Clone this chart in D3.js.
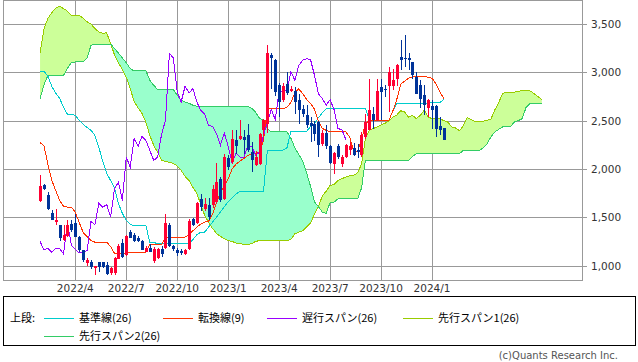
<!DOCTYPE html>
<html>
<head>
<meta charset="utf-8">
<script src="https://cdn.jsdelivr.net/npm/d3@7"></script>
<style>
  body { margin: 0; background: #fff; }
  text { font-family: "DejaVu Sans", Verdana, sans-serif; }
  .jp { font-family: "Noto Sans CJK JP", sans-serif; }
  path, line, rect { shape-rendering: crispEdges; }
</style>
</head>
<body>
<svg id="chart" width="638" height="362"></svg>
<script>

// weekly candles, 2022/1/31 .. 2024/1/22
var openP = [1667,1830,1733,1542,1449,1415,1267,1304,1432,1439,1294,1156,1028,1041,976,1034,1034,1007,924,924,
  1069,1231,1104,1346,1311,1290,1259,1145,1180,1050,1076,1173,1180,1422,1200,1156,1150,1118,1173,1477,
  1442,1691,1581,1629,1622,1657,1899,1691,2116,2071,2296,2314,2331,2348,2175,2037,2048,2400,2469,3180,
  3126,2867,2711,2885,2810,2810,2711,2625,2556,2476,2469,2486,2255,2372,2234,2048,2234,2054,2123,2200,
  2220,2195,2141,2331,2400,2566,2511,2850,2833,2857,2857,2936,3160,3154,3154,3109,2953,2867,2763,2635,
  2649,2649,2441,2427];
var highP = [1933,1847,1760,1570,1581,1420,1422,1467,1467,1536,1301,1156,1076,1052,1000,1041,1041,1041,982,1086,
  1225,1277,1311,1363,1332,1301,1262,1200,1225,1190,1180,1200,1536,1440,1210,1180,1175,1170,1480,1490,
  1660,1740,1700,1700,1830,2058,1920,2150,2140,2400,2400,2504,2400,2462,2280,2190,2370,2520,3282,3200,
  3140,2890,2890,3000,2860,2850,2780,2660,2660,2538,2500,2500,2400,2460,2250,2175,2262,2141,2255,2279,
  2270,2262,2383,2573,2936,2642,2936,2936,2867,3057,3040,3092,3333,3386,3196,3109,3005,2919,2867,2729,
  2711,2660,2538,2427];
var lowP = [1660,1778,1570,1467,1415,1249,1259,1294,1346,1294,1138,1034,1000,966,904,938,972,904,904,904,
  1069,1076,1100,1280,1239,1239,1156,1140,1135,1030,1070,1090,1170,1190,1150,1100,1110,1110,1160,1410,
  1430,1560,1560,1470,1600,1640,1660,1680,1990,2050,2150,2296,2150,2180,1970,2030,2040,2296,2370,2830,
  2760,2540,2690,2770,2800,2570,2470,2540,2420,2280,2290,2124,2240,2210,2050,1951,2106,2020,2110,2141,
  2130,2110,2123,2310,2400,2418,2500,2504,2746,2590,2815,2857,3030,3057,3030,2936,2773,2635,2556,2538,
  2418,2331,2348,2300];
var closeP = [1819,1795,1581,1474,1467,1283,1318,1422,1370,1294,1156,1052,1062,982,993,982,982,914,972,1076,
  1197,1086,1301,1287,1259,1249,1163,1180,1138,1175,1173,1121,1442,1207,1166,1131,1130,1156,1456,1422,
  1646,1605,1633,1501,1795,1864,1674,2123,2019,2314,2234,2338,2296,2192,2089,2123,2359,2504,3196,3150,
  2797,2694,2856,2787,2833,2694,2608,2566,2452,2441,2366,2244,2372,2234,2061,2165,2123,2123,2244,2234,
  2141,2175,2348,2486,2615,2511,2808,2798,2822,3005,2919,3074,3126,3143,3133,2971,2780,2729,2660,2718,
  2615,2418,2407,2304];

// 基準線(26), 転換線(9): one value per candle
var kijun = [3012,3012,2960,2856,2784,2732,2638,2566,2566,2556,2504,2462,2431,2400,2348,2224,2079,1954,1881,1800,
  1643,1539,1467,1425,1415,1415,1415,1415,1240,1240,1225,1225,1225,1225,1225,1225,1225,1225,1230,1270,
  1318,1346,1346,1400,1450,1500,1553,1610,1660,1700,1740,1770,1770,1770,1770,1770,1770,1770,2195,2195,
  2195,2195,2195,2220,2390,2390,2390,2390,2390,2440,2470,2530,2580,2625,2625,2625,2625,2625,2625,2625,
  2625,2625,2625,2625,2504,2504,2504,2504,2504,2504,2600,2677,2677,2677,2677,2677,2677,2677,2677,2677,
  2690,2690,2690,2718];
var tenkan = [2272,2240,2050,1880,1778,1674,1612,1605,1605,1550,1446,1342,1300,1259,1242,1242,1242,1242,1197,1124,
  1121,1121,1131,1138,1138,1138,1138,1138,1215,1215,1215,1215,1294,1294,1294,1294,1294,1294,1320,1360,
  1397,1430,1450,1460,1530,1650,1750,1820,1900,2000,2050,2080,2110,2140,2158,2158,2175,2300,2625,2625,
  2625,2625,2625,2640,2690,2790,2830,2780,2720,2680,2620,2500,2420,2400,2383,2383,2383,2383,2383,2330,
  2180,2180,2300,2469,2504,2504,2504,2504,2504,2504,2600,2720,2880,2910,2940,2950,2960,2960,2960,2950,
  2940,2880,2800,2729];

// 先行スパン1, 先行スパン2: plotted 25 weeks ahead
var spanA = [3198,3450,3560,3620,3665,3686,3661,3634,3593,3593,3593,3560,3524,3500,3454,3420,3406,3410,3299,3180,
  3100,3030,2950,2833,2700,2633,2576,2483,2348,2244,2172,2089,2079,2068,2058,2030,1985,1923,1881,1809,
  1747,1633,1519,1446,1384,1332,1301,1280,1259,1249,1233,1228,1218,1218,1228,1249,1259,1259,1259,1259,
  1259,1259,1259,1259,1270,1330,1345,1360,1400,1440,1530,1610,1720,1770,1830,1840,1881,1900,1915,1930,
  1933,1960,2050,2317,2400,2418,2436,2457,2473,2497,2535,2559,2603,2590,2538,2556,2521,2556,2608,2538,
  2521,2521,2521,2500,2486,2435,2425,2395,2450,2531,2510,2493,2493,2493,2505,2515,2610,2690,2780,2796,
  2796,2796,2800,2818,2812,2808,2782,2750,2720];
var spanB = [2729,2870,2970,2970,2970,2970,2970,3043,3105,3108,3108,3108,3147,3281,3292,3292,3292,3292,3292,3250,
  3200,3150,3100,3040,3015,3015,3015,3015,2919,2867,2822,2822,2822,2822,2822,2763,2711,2694,2680,2660,
  2649,2649,2649,2649,2649,2649,2649,2649,2649,2649,2649,2649,2649,2649,2628,2587,2525,2504,2421,2383,
  2383,2383,2383,2383,2317,2220,2150,2080,1960,1820,1660,1610,1553,1540,1653,1657,1691,1691,1691,1691,
  1691,1691,1800,2089,2089,2089,2089,2089,2089,2089,2089,2089,2089,2089,2089,2130,2158,2158,2158,2158,
  2158,2158,2158,2158,2158,2158,2158,2158,2193,2193,2193,2193,2193,2215,2260,2331,2383,2410,2435,2440,
  2440,2486,2500,2521,2640,2677,2677,2677,2677];

var chikouShift = 25;
var tickIndex = [9, 22, 35, 48, 61, 74, 87, 100];
var tickLabels = ["2022/4", "2022/7", "2022/10", "2023/1", "2023/4", "2023/7", "2023/10", "2024/1"];
var yTicks = [1000, 1500, 2000, 2500, 3000, 3500];

var legendItems = [
  {label: "基準線(26)", color: "#00cccc"},
  {label: "転換線(9)", color: "#ff3300"},
  {label: "遅行スパン(26)", color: "#9900ff"},
  {label: "先行スパン1(26)", color: "#99cc00"},
  {label: "先行スパン2(26)", color: "#33cc66"}
];

var plotLeft = 3, plotRight = 582, plotTop = 0, plotBottom = 280;

var svg = d3.select("#chart");

var x = d3.scaleLinear()
  .domain([-9.45, 138.25])
  .range([plotLeft, plotRight]);

var y = d3.scaleLinear()
  .domain([850, 3750])
  .range([plotBottom, plotTop]);

function px(v) { return Math.round(v) + 0.5; }

// grid
var grid = svg.append("g");
grid.selectAll(".hgrid")
  .data(yTicks)
  .enter()
  .append("line")
  .attr("x1", plotLeft)
  .attr("x2", plotRight + 5)
  .attr("y1", d => px(y(d)))
  .attr("y2", d => px(y(d)))
  .attr("stroke", "#999");

grid.selectAll(".vgrid")
  .data(tickIndex)
  .enter()
  .append("line")
  .attr("x1", d => px(x(d)))
  .attr("x2", d => px(x(d)))
  .attr("y1", plotTop)
  .attr("y2", plotBottom)
  .attr("stroke", "#999");

grid.append("rect")
  .attr("x", plotLeft + 0.5)
  .attr("y", plotTop + 0.5)
  .attr("width", plotRight - plotLeft)
  .attr("height", plotBottom - plotTop)
  .attr("fill", "none")
  .attr("stroke", "#999");

svg.append("g").selectAll("text")
  .data(yTicks)
  .enter()
  .append("text")
  .attr("x", 591)
  .attr("y", d => y(d) + 4)
  .attr("font-size", "10.5px")
  .attr("fill", "#333")
  .text(d => d3.format(",")(d));

svg.append("g").selectAll("text")
  .data(tickIndex)
  .enter()
  .append("text")
  .attr("x", d => x(d))
  .attr("y", 292)
  .attr("text-anchor", "middle")
  .attr("font-size", "10.5px")
  .attr("fill", "#333")
  .text((d, i) => tickLabels[i]);

// cloud between span 1 and span 2
var defs = svg.append("defs");
defs.append("clipPath").attr("id", "belowA")
  .append("path")
  .attr("d", d3.area().x((d, i) => x(i)).y0(plotBottom).y1(d => y(d))(spanA));
defs.append("clipPath").attr("id", "aboveA")
  .append("path")
  .attr("d", d3.area().x((d, i) => x(i)).y0(plotTop).y1(d => y(d))(spanA));

var cloud = svg.append("g");
cloud.append("path")
  .attr("clip-path", "url(#belowA)")
  .attr("d", d3.area().x((d, i) => x(i)).y0(d => y(d)).y1(plotTop)(spanB))
  .attr("fill", "#ccff99");
cloud.append("path")
  .attr("clip-path", "url(#aboveA)")
  .attr("d", d3.area().x((d, i) => x(i)).y0(d => y(d)).y1(plotBottom)(spanB))
  .attr("fill", "#99ffcc");

var line = d3.line()
  .x((d, i) => x(i))
  .y(d => y(d));

function drawLine(values, color) {
  svg.append("path")
    .attr("d", line(values))
    .attr("fill", "none")
    .attr("stroke", color)
    .attr("stroke-width", 1);
}

drawLine(spanA, "#99cc00");
drawLine(spanB, "#33cc66");
drawLine(kijun, "#00cccc");
drawLine(tenkan, "#ff3300");
drawLine(closeP.slice(chikouShift), "#9900ff");

// candles
var candles = svg.append("g").selectAll("g")
  .data(closeP)
  .enter()
  .append("g")
  .attr("fill", (d, i) => d >= openP[i] ? "#ff0033" : "#003399")
  .attr("stroke", (d, i) => d >= openP[i] ? "#ff0033" : "#003399");

candles.append("line")
  .attr("x1", (d, i) => px(x(i)))
  .attr("x2", (d, i) => px(x(i)))
  .attr("y1", (d, i) => y(highP[i]))
  .attr("y2", (d, i) => y(lowP[i]));

candles.append("rect")
  .attr("x", (d, i) => Math.round(x(i)) - 1)
  .attr("y", (d, i) => y(Math.max(d, openP[i])))
  .attr("width", 3)
  .attr("height", (d, i) => Math.max(1, Math.abs(y(d) - y(openP[i]))))
  .attr("stroke", "none");

// legend
var legend = svg.append("g");
legend.append("rect")
  .attr("x", 3.5)
  .attr("y", 296.5)
  .attr("width", 632)
  .attr("height", 49)
  .attr("fill", "none")
  .attr("stroke", "#000");

legend.append("text")
  .attr("class", "jp")
  .attr("x", 10)
  .attr("y", 322)
  .attr("font-size", "11px")
  .text("上段:");

var legendPos = [[44, 318], [163, 318], [267, 318], [403, 318], [44, 336]];
legendItems.forEach(function(item, i) {
  var p = legendPos[i];
  legend.append("line")
    .attr("x1", p[0])
    .attr("x2", p[0] + 30)
    .attr("y1", p[1] + 0.5)
    .attr("y2", p[1] + 0.5)
    .attr("stroke", item.color);
  legend.append("text")
    .attr("class", "jp")
    .attr("x", p[0] + 35)
    .attr("y", p[1] + 4)
    .attr("font-size", "11px")
    .text(item.label);
});

svg.append("text")
  .attr("x", 618)
  .attr("y", 359)
  .attr("text-anchor", "end")
  .attr("font-size", "10px")
  .attr("fill", "#555")
  .text("(c)Quants Research Inc.");

</script>
</body>
</html>
